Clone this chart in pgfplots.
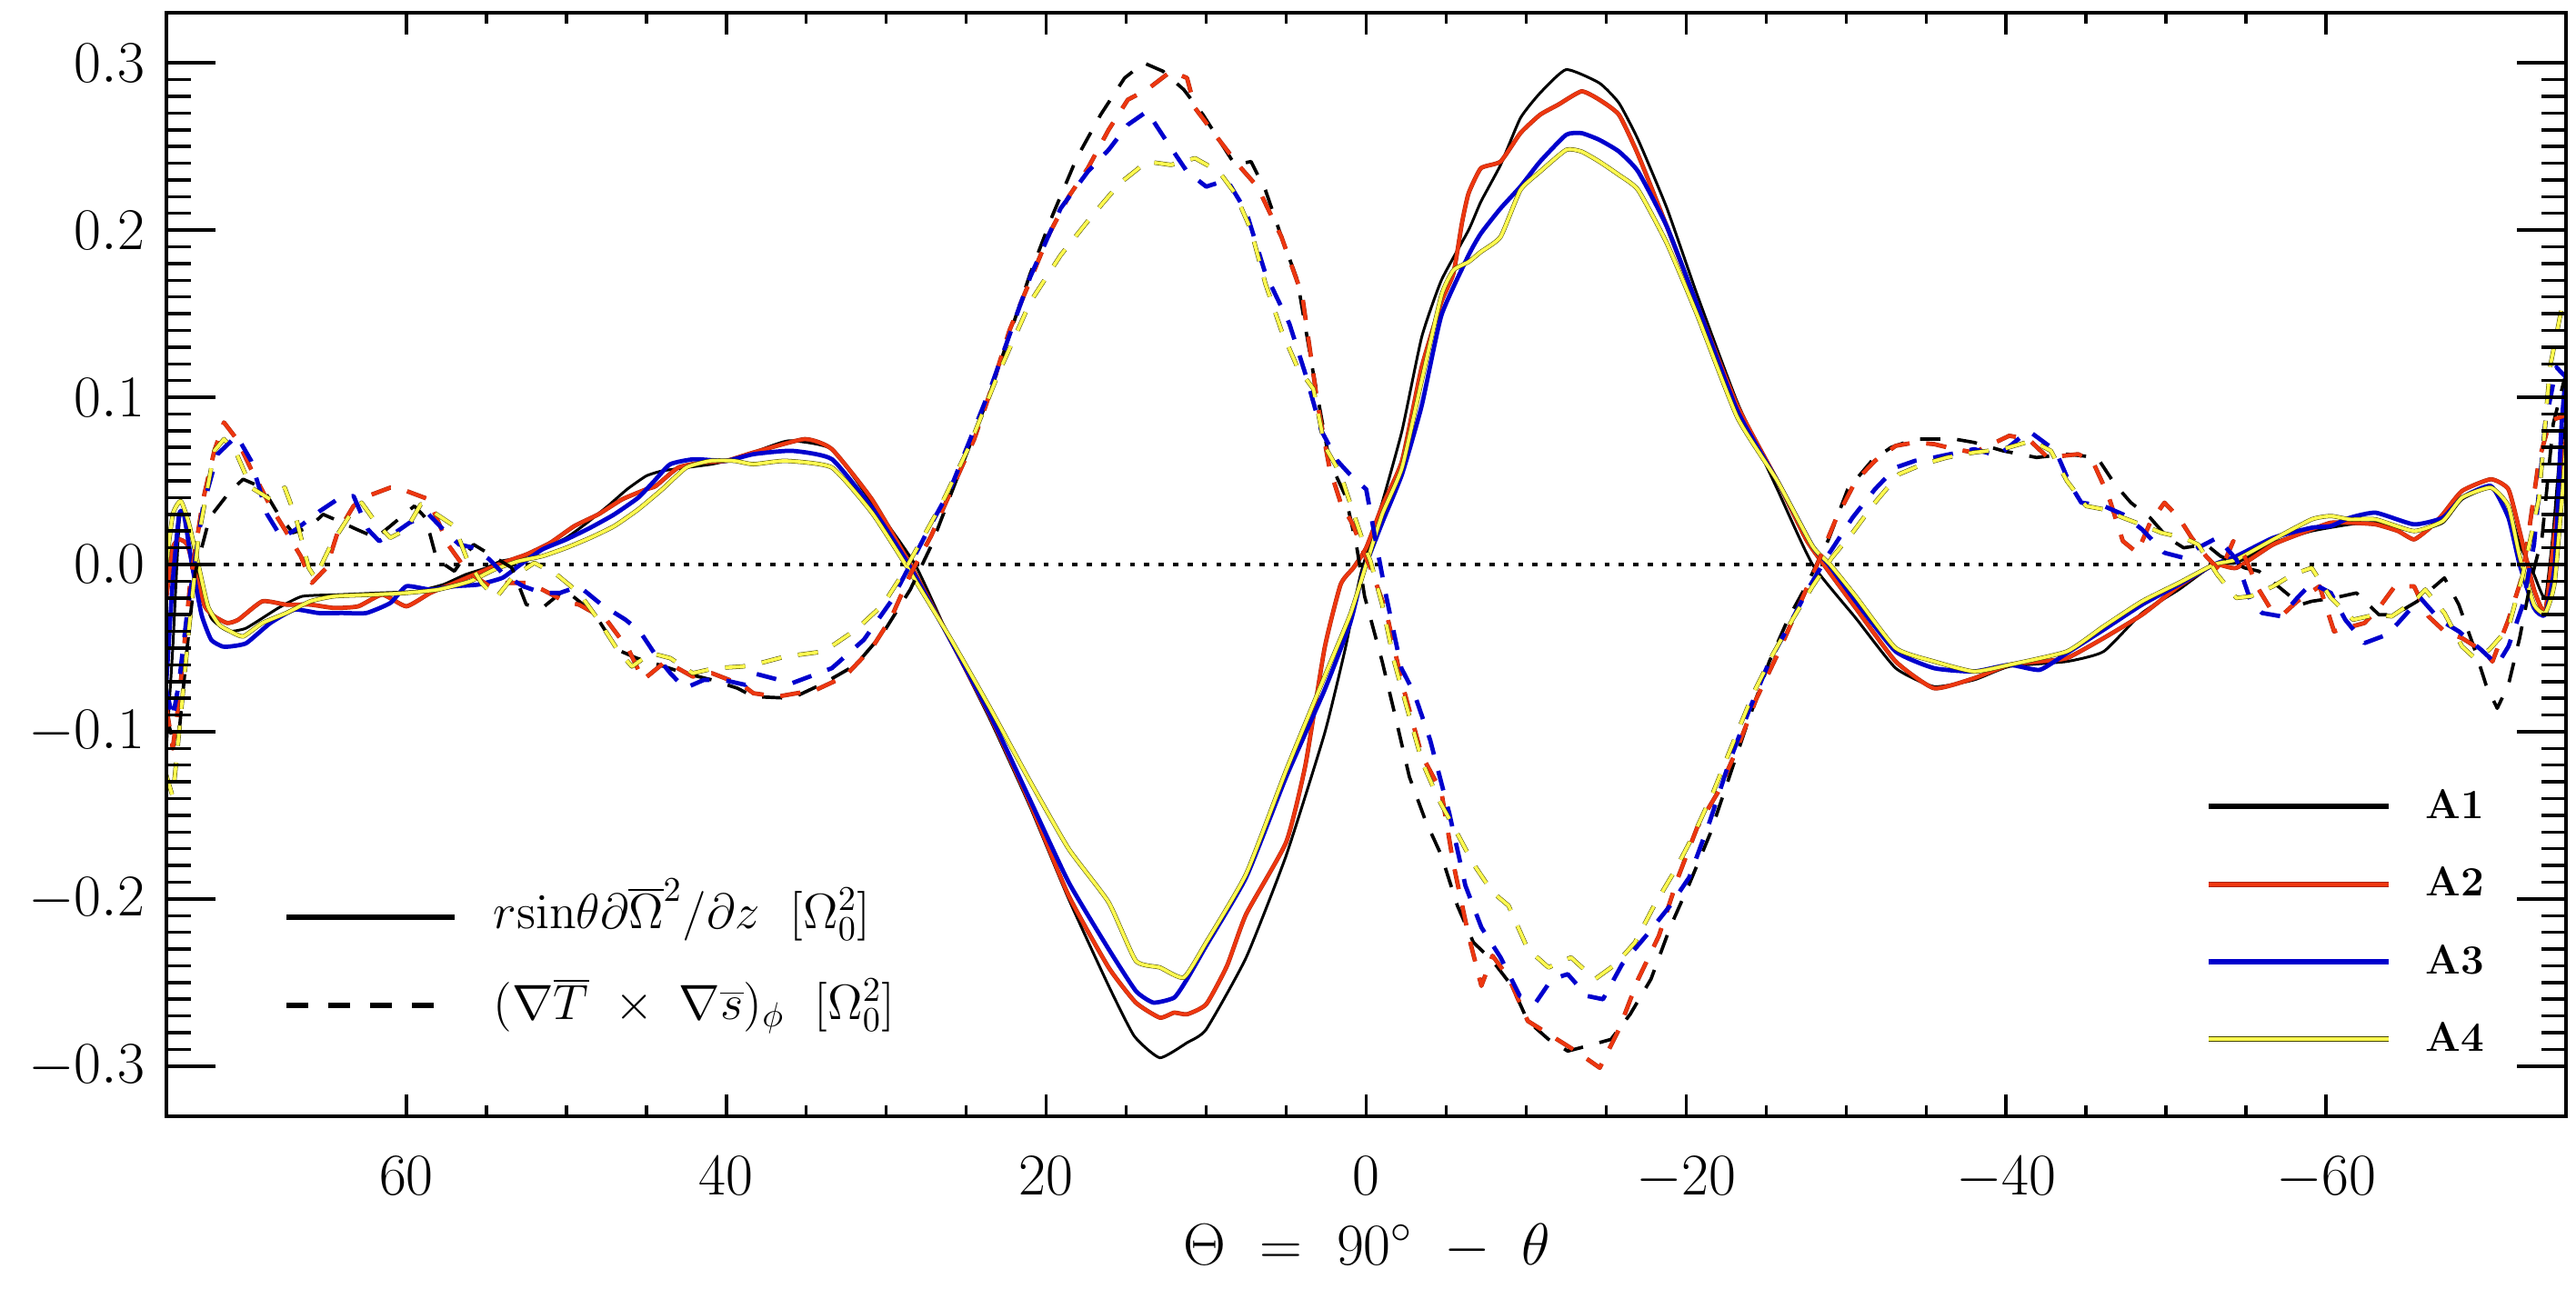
\RequirePackage{fix-cm}
\documentclass[border=0pt]{standalone}
\usepackage{pgfplots}
\usepackage{pgfplotstable}
\pgfplotsset{compat=1.18}
\definecolor{cred}{RGB}{238,55,15}
\definecolor{cdred}{RGB}{170,35,10}
\definecolor{cblue}{RGB}{0,0,205}
\definecolor{cyel}{RGB}{255,250,80}
\definecolor{colive}{RGB}{70,70,0}

\pgfplotstableread{
x y
75 -0.110
74.6 -0.050
74.2 0.025
73.9 0.032
73.4 0.015
72.8 -0.015
72.2 -0.032
71.5 -0.038
71.0 -0.040
70.0 -0.038
68.0 -0.026
66.5 -0.019
64.1 -0.018
61.7 -0.017
59.4 -0.016
57.7 -0.012
56.3 -0.006
55.0 -0.002
54.1 0.002
52.9 0.004
51.5 0.009
50.0 0.016
48.7 0.025
47.4 0.035
46.2 0.045
45.0 0.053
44.0 0.056
42.5 0.058
40.9 0.060
39.5 0.063
38.3 0.067
36.1 0.074
33.4 0.069
30.9 0.037
28.2 0.000
26.0 -0.045
23.5 -0.093
21.05 -0.144
18.6 -0.200
16.1 -0.252
14.5 -0.282
12.9 -0.295
11.2 -0.286
10.0 -0.278
7.5 -0.235
5.0 -0.174
2.6 -0.101
1.3 -0.050
0.35 -0.006
-1.0 0.037
-2.24 0.080
-3.47 0.136
-4.7 0.170
-6.4 0.200
-7.17 0.217
-8.4 0.239
-9.64 0.267
-10.87 0.282
-12.5 0.296
-14.57 0.288
-15.8 0.276
-17.0 0.254
-18.8 0.213
-20.7 0.161
-23.2 0.097
-25.7 0.045
-27.9 0.000
-30.6 -0.032
-33.1 -0.062
-35.5 -0.073
-38.0 -0.069
-40.2 -0.061
-43.8 -0.058
-46.1 -0.052
-48.5 -0.029
-50.8 -0.015
-53.0 0.000
-54.4 0.001
-56.7 0.013
-59.1 0.020
-61.5 0.024
-63.1 0.025
-65.5 0.020
-67.3 0.025
-68.5 0.039
-70.3 0.046
-71.4 0.035
-72.1 0.012
-73.0 -0.006
-73.7 -0.020
-74.2 0.020
-74.6 0.065
-75.0 0.085
}\AoneS

\pgfplotstableread{
x y
75 -0.020
74.6 0.010
74.2 0.015
73.7 0.012
73.2 -0.005
72.6 -0.025
72.0 -0.031
71.2 -0.035
70.5 -0.033
69.0 -0.022
67.5 -0.024
66.0 -0.024
64.5 -0.026
63.0 -0.025
61.5 -0.018
60.0 -0.025
58.5 -0.017
57.0 -0.011
55.5 -0.005
54.0 0.001
52.5 0.006
51.0 0.013
49.5 0.023
48.0 0.030
46.5 0.039
45.0 0.045
44.4 0.047
43.0 0.058
41.5 0.061
40.0 0.062
38.3 0.067
35.1 0.075
33.4 0.069
30.9 0.039
28.5 0.000
26.0 -0.045
23.5 -0.091
21.05 -0.142
18.6 -0.198
16.1 -0.241
14.4 -0.262
12.9 -0.271
12.0 -0.268
11.2 -0.269
10.0 -0.263
8.7 -0.240
7.5 -0.209
5.0 -0.166
3.8 -0.120
2.6 -0.050
1.6 -0.012
0.8 -0.002
0.0 0.010
-1.0 0.035
-2.24 0.062
-3.47 0.118
-4.7 0.157
-5.45 0.174
-6.0 0.205
-6.4 0.222
-7.17 0.237
-8.4 0.241
-9.64 0.258
-10.87 0.269
-12.0 0.275
-13.46 0.283
-14.57 0.278
-15.8 0.269
-17.0 0.245
-18.8 0.202
-20.7 0.155
-23.2 0.095
-25.7 0.050
-27.5 0.015
-28.6 0.000
-30.6 -0.026
-33.1 -0.058
-35.5 -0.074
-38.0 -0.068
-40.2 -0.060
-42.1 -0.058
-43.8 -0.056
-46.1 -0.044
-48.5 -0.030
-50.8 -0.013
-53.0 0.000
-54.4 -0.002
-56.7 0.012
-59.1 0.021
-60.3 0.025
-61.5 0.025
-63.1 0.024
-64.5 0.020
-65.5 0.015
-66.5 0.022
-67.3 0.030
-68.5 0.044
-70.3 0.051
-71.4 0.045
-72.1 0.020
-73.0 -0.015
-73.7 -0.028
-74.3 0.020
-75.0 0.075
}\AtwoS

\pgfplotstableread{
x y
75 -0.070
74.6 -0.010
74.2 0.030
73.9 0.030
73.4 0.000
72.8 -0.030
72.2 -0.045
71.5 -0.049
71.0 -0.049
70.0 -0.047
68.5 -0.035
67.0 -0.027
65.5 -0.029
64.0 -0.029
62.5 -0.029
61.0 -0.023
60.0 -0.013
58.5 -0.015
57.0 -0.013
55.5 -0.012
54.0 -0.008
53.0 -0.001
51.5 0.009
50.0 0.015
48.5 0.022
47.0 0.030
45.5 0.040
44.5 0.050
43.5 0.060
42.0 0.063
40.0 0.062
38.3 0.066
35.9 0.068
33.4 0.063
30.9 0.034
28.6 0.000
26.0 -0.045
23.5 -0.090
21.05 -0.140
18.6 -0.190
16.1 -0.230
14.4 -0.255
13.3 -0.262
12.0 -0.259
11.2 -0.248
10.0 -0.228
7.5 -0.187
5.0 -0.127
2.6 -0.075
1.0 -0.035
0.2 -0.005
-1.0 0.025
-2.24 0.054
-3.47 0.095
-4.7 0.149
-6.4 0.185
-7.17 0.198
-8.4 0.213
-9.64 0.226
-10.87 0.241
-12.5 0.257
-13.46 0.258
-14.57 0.254
-15.8 0.247
-17.0 0.235
-18.8 0.202
-20.7 0.155
-23.2 0.092
-25.7 0.050
-27.9 0.011
-28.9 0.000
-30.6 -0.022
-33.1 -0.052
-35.5 -0.062
-38.0 -0.064
-40.2 -0.060
-42.1 -0.063
-43.8 -0.053
-46.1 -0.039
-48.5 -0.024
-50.8 -0.012
-53.0 0.000
-54.4 0.005
-56.7 0.016
-59.1 0.022
-60.3 0.023
-61.5 0.028
-63.1 0.031
-65.5 0.024
-67.3 0.028
-68.5 0.040
-70.3 0.047
-71.4 0.028
-72.1 0.000
-73.0 -0.026
-73.7 -0.030
-74.3 0.000
-74.7 0.080
-75.0 0.115
}\AthreeS

\pgfplotstableread{
x y
75 0.000
74.6 0.030
74.1 0.038
73.6 0.025
73.0 0.000
72.4 -0.025
71.7 -0.036
71.0 -0.040
70.2 -0.043
69.0 -0.035
67.5 -0.029
66.0 -0.022
64.5 -0.019
62.0 -0.018
60.0 -0.017
58.0 -0.015
56.0 -0.010
54.5 -0.003
53.0 0.002
51.5 0.005
50.0 0.010
48.5 0.016
47.0 0.023
45.5 0.033
44.0 0.045
42.5 0.058
41.0 0.062
39.5 0.062
38.3 0.060
36.3 0.062
33.4 0.058
30.9 0.031
28.8 0.000
26.0 -0.044
23.5 -0.086
21.05 -0.129
18.6 -0.170
16.1 -0.202
14.4 -0.237
12.9 -0.241
11.4 -0.247
10.0 -0.226
7.5 -0.185
5.0 -0.123
2.6 -0.067
1.0 -0.030
0.0 0.000
-1.0 0.030
-2.24 0.058
-3.47 0.110
-4.7 0.161
-5.45 0.176
-6.4 0.181
-7.17 0.187
-8.4 0.196
-9.64 0.224
-10.87 0.235
-12.5 0.248
-13.46 0.247
-14.57 0.241
-15.8 0.233
-17.0 0.224
-18.8 0.192
-20.7 0.149
-23.2 0.088
-25.7 0.050
-27.9 0.011
-29.0 0.000
-30.6 -0.019
-33.1 -0.050
-35.5 -0.058
-38.0 -0.064
-40.2 -0.060
-43.8 -0.052
-46.1 -0.037
-48.5 -0.022
-50.8 -0.011
-53.0 0.000
-54.4 0.003
-56.7 0.015
-59.1 0.027
-60.3 0.029
-61.5 0.027
-63.1 0.027
-65.5 0.020
-67.3 0.026
-68.5 0.040
-70.3 0.046
-71.4 0.035
-72.1 0.005
-73.0 -0.024
-73.7 -0.029
-74.3 -0.010
-75.0 0.070
}\AfourS

\pgfplotstableread{
x y
75 -0.090
74.6 -0.105
74.2 -0.100
73.6 -0.040
73.2 -0.005
72.3 0.028
71.0 0.044
70.2 0.051
69.0 0.046
68.0 0.030
67.1 0.019
66.1 0.022
65.2 0.030
64.0 0.025
63.1 0.021
61.9 0.016
61.0 0.023
59.5 0.035
58.8 0.028
58.1 0.003
57.0 -0.004
55.8 0.012
54.6 0.005
53.4 -0.002
52.5 -0.024
51.5 -0.026
50.1 -0.015
49.2 -0.022
48.0 -0.033
46.8 -0.051
45.6 -0.056
44.2 -0.060
42.6 -0.065
40.9 -0.069
39.3 -0.074
38.3 -0.079
35.9 -0.080
33.9 -0.071
31.9 -0.060
30.2 -0.041
28.5 -0.015
27.2 0.011
26.0 0.041
23.5 0.103
21.0 0.174
19.6 0.209
18.1 0.243
16.6 0.269
15.1 0.291
13.9 0.300
12.7 0.295
11.4 0.284
10.2 0.269
9.2 0.254
8.2 0.239
7.2 0.241
6.3 0.224
5.3 0.196
4.3 0.170
3.3 0.114
2.3 0.062
1.3 0.041
0.6 0.011
0.1 -0.019
-1.0 -0.058
-1.75 -0.088
-2.7 -0.127
-3.7 -0.153
-4.7 -0.174
-5.7 -0.204
-6.7 -0.226
-7.9 -0.237
-9.1 -0.252
-10.1 -0.273
-11.4 -0.284
-12.6 -0.291
-13.8 -0.288
-15.3 -0.284
-16.5 -0.269
-17.8 -0.248
-19.0 -0.217
-20.2 -0.191
-21.5 -0.161
-22.7 -0.127
-23.9 -0.093
-25.2 -0.058
-26.4 -0.032
-27.6 -0.011
-28.9 0.015
-30.1 0.045
-31.6 0.062
-32.8 0.070
-34.3 0.075
-36.8 0.075
-38.0 0.073
-39.8 0.068
-41.9 0.064
-43.8 0.066
-45.7 0.064
-46.8 0.048
-47.8 0.037
-49.0 0.028
-50.1 0.016
-51.1 0.010
-52.5 0.012
-53.4 0.005
-54.9 -0.002
-55.8 -0.004
-57.0 -0.013
-58.4 -0.024
-59.1 -0.022
-60.5 -0.020
-61.9 -0.017
-63.3 -0.030
-64.3 -0.030
-65.7 -0.022
-67.4 -0.008
-68.3 -0.024
-69.3 -0.051
-70.0 -0.072
-70.7 -0.086
-71.4 -0.072
-72.1 -0.044
-72.8 -0.010
-73.5 0.016
-74.2 0.084
-74.9 0.111
}\AoneD

\pgfplotstableread{
x y
75 -0.085
74.6 -0.110
74.2 -0.080
73.5 -0.010
72.7 0.039
72.0 0.068
71.4 0.085
70.6 0.075
69.7 0.057
68.5 0.035
67.6 0.021
66.6 0.005
65.9 -0.011
65.0 -0.002
64.3 0.019
63.3 0.035
62.4 0.041
61.0 0.046
60.0 0.044
58.6 0.039
57.4 0.012
56.2 -0.004
54.8 -0.013
53.9 -0.011
52.5 -0.011
51.5 -0.015
50.1 -0.022
49.2 -0.024
47.5 -0.033
46.1 -0.051
45.2 -0.069
43.8 -0.058
42.1 -0.067
40.9 -0.065
39.0 -0.072
38.3 -0.077
36.8 -0.079
34.4 -0.075
32.6 -0.067
30.9 -0.050
29.7 -0.032
28.5 -0.006
27.2 0.017
26.0 0.043
24.5 0.075
23.5 0.103
22.3 0.140
21.0 0.170
19.8 0.198
18.6 0.220
17.4 0.237
16.1 0.260
14.9 0.278
13.7 0.284
12.2 0.295
11.2 0.291
10.7 0.273
9.2 0.254
8.0 0.239
6.8 0.226
5.3 0.196
4.0 0.161
3.05 0.097
2.3 0.058
1.6 0.037
0.84 0.024
0.1 0.006
-0.27 -0.002
-1.25 -0.028
-2.24 -0.071
-3.47 -0.114
-4.7 -0.136
-5.45 -0.179
-6.4 -0.222
-7.2 -0.252
-7.9 -0.234
-8.9 -0.247
-10.1 -0.273
-11.6 -0.282
-13.1 -0.291
-14.6 -0.301
-15.8 -0.278
-17.0 -0.248
-18.3 -0.222
-19.5 -0.187
-20.7 -0.157
-22.0 -0.136
-23.2 -0.110
-24.4 -0.080
-25.7 -0.054
-26.9 -0.028
-28.1 -0.002
-29.4 0.028
-30.6 0.050
-31.8 0.062
-33.1 0.071
-34.3 0.073
-35.5 0.072
-36.8 0.069
-38.0 0.067
-40.2 0.077
-41.4 0.075
-42.6 0.064
-44.5 0.066
-45.4 0.062
-46.4 0.041
-47.3 0.014
-48.2 0.007
-49.0 0.025
-49.9 0.037
-50.8 0.028
-51.6 0.016
-52.5 0.005
-53.4 -0.004
-54.2 0.014
-54.9 0.005
-55.8 -0.015
-56.5 -0.026
-57.4 -0.029
-58.2 -0.022
-59.6 -0.013
-60.5 -0.040
-62.4 -0.035
-63.3 -0.026
-64.3 -0.013
-65.5 -0.013
-66.4 -0.031
-67.4 -0.040
-68.5 -0.044
-70.0 -0.053
-70.4 -0.058
-71.4 -0.033
-72.3 -0.006
-73.3 0.062
-74.0 0.086
-74.9 0.089
}\AtwoD

\pgfplotstableread{
x y
75 -0.075
74.6 -0.092
74.2 -0.070
73.7 -0.029
72.7 0.035
71.8 0.066
70.6 0.077
69.7 0.062
68.7 0.030
67.8 0.016
66.9 0.021
65.4 0.032
64.3 0.039
63.3 0.041
62.4 0.021
61.7 0.014
60.7 0.019
59.8 0.025
58.6 0.030
57.7 0.021
56.7 0.012
55.8 0.010
54.8 0.003
53.9 -0.006
52.7 -0.013
51.5 -0.017
50.4 -0.017
49.2 -0.013
47.8 -0.024
46.3 -0.033
45.4 -0.040
44.5 -0.053
43.5 -0.065
42.6 -0.074
41.4 -0.069
40.2 -0.069
38.8 -0.072
38.3 -0.065
35.9 -0.071
33.4 -0.062
31.4 -0.045
29.7 -0.022
28.5 0.000
27.2 0.024
26.0 0.045
23.5 0.105
21.0 0.172
19.1 0.213
17.4 0.235
16.1 0.248
14.9 0.263
13.7 0.271
12.4 0.252
11.2 0.235
10.0 0.226
8.7 0.230
7.5 0.211
6.3 0.174
4.8 0.144
3.8 0.114
2.8 0.080
1.8 0.062
0.84 0.052
0.0 0.045
-0.5 0.019
-1.25 -0.019
-2.2 -0.062
-3.0 -0.077
-4.0 -0.105
-5.2 -0.149
-6.2 -0.192
-7.2 -0.217
-8.4 -0.235
-9.6 -0.258
-10.6 -0.262
-11.6 -0.248
-12.6 -0.245
-13.8 -0.258
-14.8 -0.260
-16.0 -0.239
-17.5 -0.222
-19.0 -0.204
-20.2 -0.187
-21.5 -0.153
-22.7 -0.118
-23.9 -0.088
-25.2 -0.058
-26.4 -0.037
-27.6 -0.015
-28.9 0.006
-30.4 0.028
-31.8 0.045
-33.1 0.058
-34.3 0.062
-35.5 0.064
-38.0 0.069
-39.5 0.065
-41.4 0.080
-43.1 0.068
-44.0 0.048
-44.7 0.037
-46.1 0.035
-47.3 0.030
-48.5 0.021
-49.9 0.007
-51.1 0.004
-52.0 0.010
-53.2 0.016
-54.4 0.003
-55.3 -0.022
-56.0 -0.029
-57.2 -0.031
-58.2 -0.020
-59.1 -0.011
-60.3 -0.017
-61.2 -0.033
-62.4 -0.047
-63.8 -0.042
-64.5 -0.035
-65.9 -0.020
-67.1 -0.033
-68.3 -0.040
-69.7 -0.051
-70.7 -0.060
-71.4 -0.049
-72.3 -0.024
-73.0 0.012
-73.7 0.084
-74.4 0.118
-74.9 0.113
}\AthreeD

\pgfplotstableread{
x y
75 -0.126
74.6 -0.139
74.2 -0.100
73.6 -0.040
73.0 0.016
72.0 0.068
71.4 0.075
70.6 0.066
69.7 0.046
68.5 0.039
67.6 0.046
66.9 0.028
66.1 -0.002
65.7 -0.008
64.7 0.012
63.5 0.030
62.8 0.037
61.9 0.025
61.0 0.016
60.0 0.021
59.1 0.036
58.1 0.030
57.0 0.023
56.2 0.003
55.3 -0.011
54.4 -0.020
53.4 -0.008
52.0 0.001
50.6 -0.006
49.2 -0.017
48.0 -0.033
46.8 -0.051
45.9 -0.061
44.7 -0.053
43.5 -0.056
42.1 -0.065
40.7 -0.062
39.0 -0.061
38.3 -0.060
36.3 -0.055
33.9 -0.052
31.9 -0.039
30.2 -0.024
29.0 -0.006
28.0 0.011
26.5 0.037
24.8 0.071
23.0 0.114
21.0 0.157
19.1 0.185
17.1 0.209
15.4 0.228
13.7 0.241
12.2 0.239
10.7 0.243
9.2 0.235
8.2 0.222
7.2 0.200
6.3 0.168
5.3 0.140
4.3 0.118
3.3 0.105
2.6 0.071
1.6 0.054
0.84 0.032
0.1 0.011
-0.27 0.002
-1.0 -0.024
-1.75 -0.058
-2.5 -0.084
-3.5 -0.118
-4.5 -0.140
-5.7 -0.161
-6.7 -0.179
-7.9 -0.196
-8.9 -0.204
-10.1 -0.230
-11.4 -0.241
-12.8 -0.235
-14.3 -0.248
-15.6 -0.239
-16.8 -0.226
-18.0 -0.204
-19.3 -0.183
-20.5 -0.161
-21.7 -0.136
-23.0 -0.105
-24.2 -0.077
-25.4 -0.054
-26.7 -0.032
-27.9 -0.013
-29.1 0.004
-30.4 0.019
-31.8 0.037
-33.3 0.054
-34.8 0.060
-36.3 0.064
-38.0 0.067
-39.8 0.069
-41.6 0.074
-42.8 0.068
-43.8 0.050
-45.0 0.035
-46.1 0.033
-47.3 0.028
-48.7 0.023
-49.7 0.019
-51.1 0.016
-52.0 0.012
-53.2 -0.006
-54.4 -0.020
-55.3 -0.019
-56.7 -0.013
-57.9 -0.006
-59.1 -0.002
-60.3 -0.020
-61.7 -0.033
-63.1 -0.030
-64.1 -0.031
-65.5 -0.022
-66.2 -0.015
-67.4 -0.029
-68.5 -0.049
-69.3 -0.056
-70.2 -0.051
-71.4 -0.038
-72.3 -0.006
-73.3 0.039
-74.0 0.118
-74.7 0.152
-75.0 0.155
}\AfourD

\begin{document}
\begin{tikzpicture}[x=1mm,y=1mm]
\pgfplotsset{
  common/.style={
    at={(18.3mm,18.9mm)}, anchor=south west,
    scale only axis, width=263.9mm, height=121.4mm,
    x dir=reverse, xmin=-75, xmax=75, ymin=-0.33, ymax=0.33,
    axis line style={line width=1.25pt},
    tick style={line width=1pt, black},
    tick align=inside,
  },
  sm/.style={smooth, tension=0.3},
  dsh/.style={dash pattern=on 6.3pt off 5.3pt},
  blk/.style={black, line width=0.85pt, line join=round},
  redl/.style={draw=cdred, line width=0.15pt, double=cred, double distance=1.05pt, line join=round},
  bluel/.style={cblue, line width=1.35pt, line join=round},
  yel/.style={draw=colive, line width=0.15pt, double=cyel, double distance=1.05pt, line join=round},
}
% axis with data and x ticks
\begin{axis}[common, axis on top,
  xtick={-60,-40,...,60}, minor x tick num=3,
  major tick length=2.4mm, minor tick length=1.2mm,
  ytick=\empty,
  xticklabel style={font=\fontsize{18.5}{22}\selectfont, inner sep=0pt, yshift=-4.4mm},
]
\addplot[black, dash pattern=on 1.6pt off 2.9pt, line width=1.1pt] coordinates {(75,0) (-75,0)};
\addplot[blk, sm] table {\AoneS};
\addplot[redl, sm] table {\AtwoS};
\addplot[bluel, sm] table {\AthreeS};
\addplot[yel, sm] table {\AfourS};
\addplot[blk, dsh, line width=1.05pt] table {\AoneD};
\addplot[redl, dsh] table {\AtwoD};
\addplot[bluel, dsh] table {\AthreeD};
\addplot[yel, dsh] table {\AfourD};
\end{axis}
% overlay axis for y ticks
\begin{axis}[common,
  xtick=\empty,
  ytick={-0.3,-0.2,-0.1,0,0.1,0.2,0.3}, minor y tick num=9,
  major tick length=5.4mm, minor tick length=2.7mm,
  yticklabel style={font=\fontsize{18.5}{22}\selectfont, inner sep=0pt, xshift=-2.3mm,
    /pgf/number format/fixed, /pgf/number format/fixed zerofill, /pgf/number format/precision=1},
]
\addplot[draw=none] coordinates {(0,0)};
\end{axis}
% x label
\node[anchor=base, font=\fontsize{18.5}{22}\selectfont] at (150.3,2.6) {$\Theta\ =\ 90^\circ\ -\ \theta$};
% lower-left legend
\draw[black, line width=1.7pt] (31.5,40.8) -- (50.0,40.8);
\node[anchor=base west, inner sep=0pt, font=\fontsize{15.5}{18}\selectfont] at (54.2,39.6)
  {$r\mathrm{sin}\theta\partial\overline{\Omega}^2/\partial z\ \ [\Omega_0^2]$};
\draw[black, line width=1.7pt, dash pattern=on 6.8pt off 6.3pt] (31.5,31.1) -- (48.6,31.1);
\node[anchor=base west, inner sep=0pt, font=\fontsize{15.5}{18}\selectfont] at (54.2,29.6)
  {$(\nabla\overline{T}\ \times\ \nabla\overline{s})_\phi\ \ [\Omega_0^2]$};
% right legend
\draw[black, line width=1.5pt] (242.9,53.0) -- (262.7,53.0);
\draw[draw=cdred, line width=0.15pt, double=cred, double distance=1.25pt] (242.9,44.4) -- (262.7,44.4);
\draw[cblue, line width=1.5pt] (242.9,35.9) -- (262.7,35.9);
\draw[draw=colive, line width=0.15pt, double=cyel, double distance=1.25pt] (242.9,27.4) -- (262.7,27.4);
\node[anchor=base west, inner sep=0pt, font=\fontsize{13}{15}\selectfont\bfseries] at (266.7,51.7) {A1};
\node[anchor=base west, inner sep=0pt, font=\fontsize{13}{15}\selectfont\bfseries] at (266.7,43.2) {A2};
\node[anchor=base west, inner sep=0pt, font=\fontsize{13}{15}\selectfont\bfseries] at (266.7,34.6) {A3};
\node[anchor=base west, inner sep=0pt, font=\fontsize{13}{15}\selectfont\bfseries] at (266.7,26.1) {A4};
\pgfresetboundingbox
\useasboundingbox (0,0) rectangle (283.3,141.7);
\end{tikzpicture}
\end{document}
